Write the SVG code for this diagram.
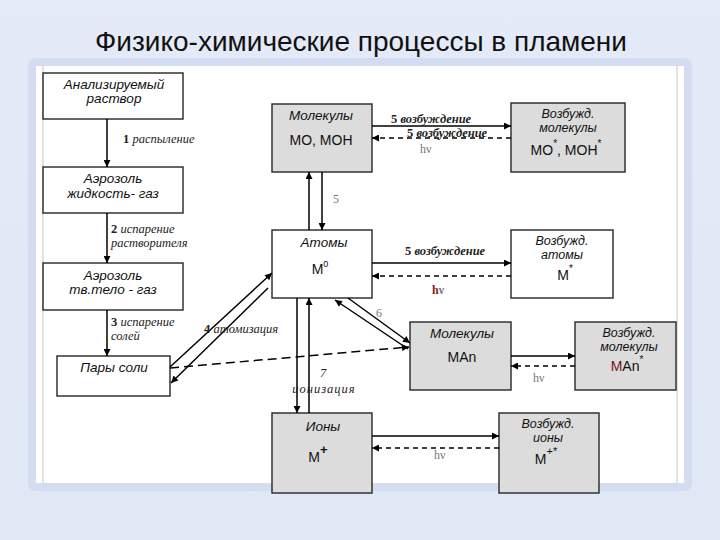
<svg xmlns="http://www.w3.org/2000/svg" width="720" height="540" viewBox="0 0 720 540">
<defs>
<linearGradient id="bg" x1="0" y1="0" x2="0" y2="1">
<stop offset="0" stop-color="#e4eaf7"/><stop offset="1" stop-color="#e0e7f5"/>
</linearGradient>
<marker id="ah" viewBox="0 0 10 10" refX="10" refY="5" markerWidth="9" markerHeight="7" orient="auto" markerUnits="userSpaceOnUse">
<path d="M0,0 L10,5 L0,10 z" fill="#000"/>
</marker>
<style>
.box{stroke:#333;stroke-width:1.5}
.w{fill:#fff}.g{fill:#dcdcdc}
.t{font-family:"Liberation Sans",Arial,sans-serif;font-style:italic;font-size:13.5px;fill:#111;text-anchor:middle}
.s{font-size:12.5px}
.f{font-family:"Liberation Sans",Arial,sans-serif;font-size:14px;fill:#111;text-anchor:middle}
.l{font-family:"Liberation Serif","Times New Roman",serif;font-style:italic;font-size:12.5px;fill:#222}
.n{font-weight:bold;font-style:normal}
.hv{font-family:"Liberation Serif","Times New Roman",serif;font-size:12px;fill:#777}
.c line{stroke:#000;stroke-width:1.5;fill:none}
.c .d{stroke-dasharray:5,4}
</style>
</defs>
<rect width="720" height="540" fill="url(#bg)"/>
<rect x="28" y="58" width="664" height="433" fill="#d3dcf1" rx="8"/>
<rect x="36" y="66" width="648" height="417" fill="#fff"/>
<line x1="43" y1="66" x2="43" y2="483" stroke="#c4c4c4" stroke-width="1"/>
<line x1="677" y1="66" x2="677" y2="483" stroke="#c4c4c4" stroke-width="1"/>
<text x="361" y="51" font-family="Liberation Sans,Arial,sans-serif" font-size="28" fill="#111" text-anchor="middle">Физико-химические процессы в пламени</text>

<g id="n-solution"><rect class="box w" x="43" y="73" width="140" height="46"/><text class="t" x="114" y="89">Анализируемый</text><text class="t" x="114" y="103">раствор</text></g>
<g id="n-aer1"><rect class="box w" x="43" y="167" width="140" height="46"/><text class="t" x="113" y="183">Аэрозоль</text><text class="t" x="113" y="198">жидкость- газ</text></g>
<g id="n-aer2"><rect class="box w" x="43" y="263" width="140" height="47"/><text class="t" x="113" y="280">Аэрозоль</text><text class="t" x="113" y="294">тв.тело - газ</text></g>
<g id="n-vapour"><rect class="box w" x="57" y="356" width="113" height="40"/><text class="t" x="114" y="372">Пары соли</text></g>
<g id="n-mol"><rect class="box g" x="272" y="104" width="100" height="68"/><text class="t" x="321" y="120">Молекулы</text><text class="f" x="321" y="145">МО, МОН</text></g>
<g id="n-emol"><rect class="box g" x="511" y="103" width="114" height="69"/><text class="t s" x="568" y="118">Возбужд.</text><text class="t s" x="568" y="132">молекулы</text><text class="f" x="566" y="155">МО<tspan dy="-8" font-size="10">*</tspan><tspan dy="8">, МОН</tspan><tspan dy="-8" font-size="10">*</tspan></text></g>
<g id="n-atoms"><rect class="box w" x="272" y="230" width="100" height="68"/><text class="t" x="324" y="247">Атомы</text><text class="f" x="320" y="274" font-size="15">M<tspan dy="-7" font-size="9">0</tspan></text></g>
<g id="n-eatoms"><rect class="box w" x="511" y="230" width="102" height="68"/><text class="t s" x="562" y="245">Возбужд.</text><text class="t s" x="562" y="259">атомы</text><text class="f" x="565" y="280" font-size="17">M<tspan dy="-8" font-size="10">*</tspan></text></g>
<g id="n-man"><rect class="box g" x="410" y="322" width="101" height="68"/><text class="t" x="462" y="338">Молекулы</text><text class="f" x="462" y="362">МАn</text></g>
<g id="n-eman"><rect class="box g" x="575" y="322" width="101" height="68"/><text class="t s" x="629" y="337">Возбужд.</text><text class="t s" x="629" y="351">молекулы</text><text class="f" x="627" y="371"><tspan fill="#7a1020">M</tspan>An<tspan dy="-8" font-size="10">*</tspan></text></g>
<g id="n-ions"><rect class="box g" x="272" y="413" width="100" height="80"/><text class="t" x="323" y="431">Ионы</text><text class="f" x="318" y="462">M<tspan dy="-8" font-size="13" font-weight="bold">+</tspan></text></g>
<g id="n-eions"><rect class="box g" x="499" y="413" width="100" height="80"/><text class="t s" x="548" y="428">Возбужд.</text><text class="t s" x="548" y="442">ионы</text><text class="f" x="546" y="464">M<tspan dy="-9" font-size="11">+*</tspan></text></g>

<g class="c" id="connectors">
<line x1="107" y1="119" x2="107" y2="167" marker-end="url(#ah)"/>
<line x1="107" y1="213" x2="107" y2="263" marker-end="url(#ah)"/>
<line x1="107" y1="310" x2="107" y2="356" marker-end="url(#ah)"/>
<line x1="372" y1="126" x2="511" y2="126" marker-end="url(#ah)"/>
<line class="d" x1="511" y1="138" x2="372" y2="138" marker-end="url(#ah)"/>
<line x1="309" y1="230" x2="309" y2="172" marker-end="url(#ah)"/>
<line x1="322" y1="172" x2="322" y2="230" marker-end="url(#ah)"/>
<line x1="372" y1="263" x2="511" y2="263" marker-end="url(#ah)"/>
<line class="d" x1="511" y1="276" x2="372" y2="276" marker-end="url(#ah)"/>
<line x1="511" y1="356" x2="575" y2="356" marker-end="url(#ah)"/>
<line class="d" x1="575" y1="366" x2="511" y2="366" marker-end="url(#ah)"/>
<line x1="372" y1="436" x2="499" y2="436" marker-end="url(#ah)"/>
<line class="d" x1="499" y1="448" x2="372" y2="448" marker-end="url(#ah)"/>
<line x1="297" y1="298" x2="297" y2="413" marker-end="url(#ah)"/>
<line x1="309" y1="413" x2="309" y2="298" marker-end="url(#ah)"/>
<line x1="170" y1="367" x2="272" y2="273" marker-end="url(#ah)"/>
<line x1="268" y1="288" x2="171" y2="383" marker-end="url(#ah)"/>
<line class="d" x1="170" y1="368" x2="409" y2="347" marker-end="url(#ah)" style="stroke-dasharray:9,5"/>
<line x1="348" y1="298" x2="410" y2="343" marker-end="url(#ah)"/>
<line x1="408" y1="349" x2="335" y2="300" marker-end="url(#ah)"/>
</g>

<g id="labels">
<text class="l" x="123" y="143" font-size="14"><tspan class="n">1</tspan> распыление</text>
<text class="l" x="111" y="233"><tspan class="n">2</tspan> испарение</text>
<text class="l" x="111" y="247">растворителя</text>
<text class="l" x="111" y="326"><tspan class="n">3</tspan> испарение</text>
<text class="l" x="111" y="340">солей</text>
<text class="l" x="391" y="123" font-size="11.3" font-weight="bold"><tspan class="n">5</tspan> возбуждение</text>
<text class="l" x="407" y="137" font-size="11" font-weight="bold"><tspan class="n">5</tspan> возбуждение</text>
<text class="hv" x="420" y="153">hν</text>
<text class="hv" x="333" y="203">5</text>
<text class="l" x="405" y="255" font-size="12.5" font-weight="bold"><tspan class="n">5</tspan> возбуждение</text>
<text class="hv" x="432" y="294" font-weight="bold" fill="#222"><tspan fill="#8a1a20">h</tspan>ν</text>
<text class="hv" x="533" y="382">hν</text>
<text class="hv" x="434" y="459">hν</text>
<text class="l" x="204" y="333" font-size="14.5"><tspan class="n">4</tspan> атомизация</text>
<text class="hv" x="376" y="317" font-size="13">6</text>
<text class="l" x="323" y="377" font-size="12" font-style="normal" text-anchor="middle">7</text>
<text class="l" x="324" y="393" font-size="13" letter-spacing="1" text-anchor="middle">ионизация</text>
</g>
</svg>
